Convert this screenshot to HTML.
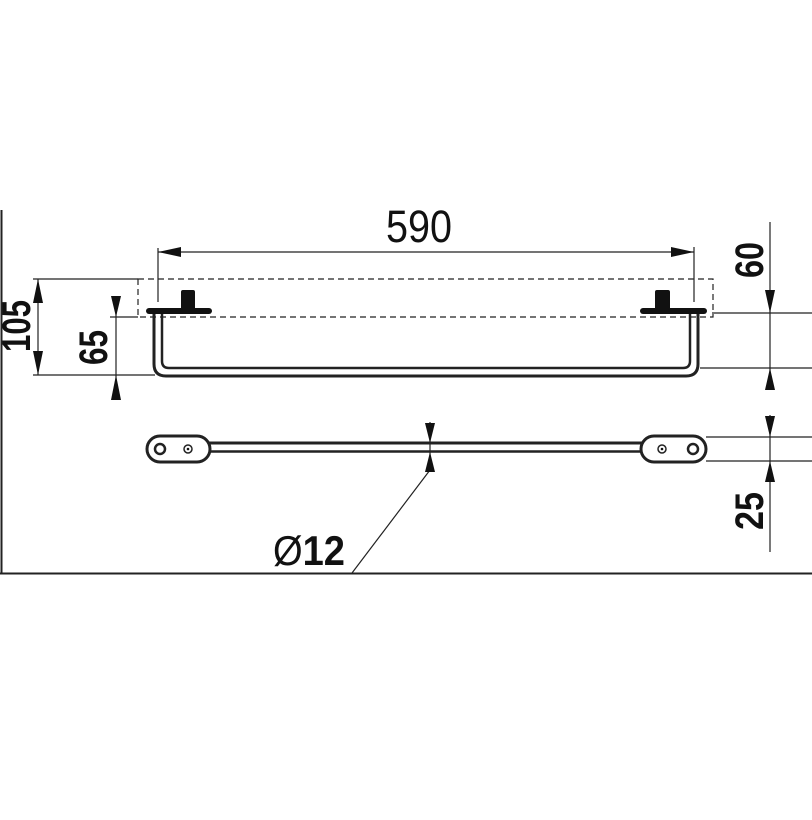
<!DOCTYPE html>
<html><head><style>html,body{margin:0;padding:0;background:#fff;}svg{display:block}
text{font-family:"Liberation Sans",sans-serif;fill:#111;}</style></head>
<body>
<svg width="812" height="820" viewBox="0 0 812 820" xmlns="http://www.w3.org/2000/svg">
<g stroke="#222" fill="none">
<line x1="1.5" y1="210" x2="1.5" y2="574" stroke-width="2"/>
<line x1="0" y1="573.5" x2="812" y2="573.5" stroke-width="2"/>
<line x1="158" y1="252" x2="694" y2="252" stroke-width="1.2"/>
<line x1="158" y1="248" x2="158" y2="302" stroke-width="1.2"/>
<line x1="694" y1="247" x2="694" y2="302" stroke-width="1.2"/>
<rect x="138" y="279" width="575" height="38" stroke-width="1.2" stroke-dasharray="6,4"/>
<line x1="33" y1="279" x2="138" y2="279" stroke-width="1.2"/>
<line x1="33" y1="375" x2="155" y2="375" stroke-width="1.2"/>
<line x1="38" y1="279" x2="38" y2="375" stroke-width="1.2"/>
<line x1="110" y1="317" x2="138" y2="317" stroke-width="1.2"/>
<line x1="116" y1="296" x2="116" y2="400" stroke-width="1.2"/>
<line x1="770" y1="222" x2="770" y2="388" stroke-width="1.2"/>
<line x1="712" y1="313" x2="812" y2="313" stroke-width="1.2"/>
<line x1="700" y1="368" x2="812" y2="368" stroke-width="1.2"/>
<line x1="770" y1="415" x2="770" y2="552" stroke-width="1.2"/>
<line x1="706" y1="437" x2="812" y2="437" stroke-width="1.2"/>
<line x1="706" y1="461" x2="812" y2="461" stroke-width="1.2"/>
<line x1="430" y1="422" x2="430" y2="470" stroke-width="1.2"/>
<line x1="430" y1="470" x2="352" y2="573" stroke-width="1.2"/>
<path d="M154 313 V364 Q154 376 166 376 H686 Q698 376 698 364 V313" stroke-width="3"/>
<path d="M162 313 V361 Q162 368 169 368 H683 Q690 368 690 361 V313" stroke-width="2.5"/>
<line x1="209" y1="443" x2="642" y2="443" stroke-width="3"/>
<line x1="209" y1="451.5" x2="642" y2="451.5" stroke-width="2.5"/>
<rect x="147" y="436" width="63" height="26" rx="13" stroke-width="3" fill="#fff"/>
<rect x="641" y="436" width="65" height="26" rx="13" stroke-width="3" fill="#fff"/>
<circle cx="160" cy="449" r="5" stroke-width="2.5"/>
<circle cx="188" cy="449" r="4" stroke-width="1.5"/>
<circle cx="662" cy="449" r="4" stroke-width="1.5"/>
<circle cx="693" cy="449" r="5" stroke-width="2.5"/>
</g>
<g fill="#111">
<circle cx="188" cy="449" r="1.3"/><circle cx="662" cy="449" r="1.3"/>
<rect x="146" y="308" width="66" height="6" rx="3"/>
<rect x="181" y="290" width="14" height="20" rx="2"/>
<rect x="640" y="308" width="67" height="6" rx="3"/>
<rect x="655" y="290" width="15" height="20" rx="2"/>
<polygon points="158,252 181,247 181,257"/>
<polygon points="694,252 671,247 671,257"/>
<polygon points="38,279 33,303 43,303"/>
<polygon points="38,375 33,351 43,351"/>
<polygon points="116,317 111,296 121,296"/>
<polygon points="116,375 111,400 121,400"/>
<polygon points="770,313 765,290 775,290"/>
<polygon points="770,368 765,390 775,390"/>
<polygon points="770,437 765,416 775,416"/>
<polygon points="770,461 765,482 775,482"/>
<polygon points="430,443 425,423 435,423"/>
<polygon points="430,452 425,472 435,472"/>
</g>
<text x="386" y="242" font-size="45" textLength="66" lengthAdjust="spacingAndGlyphs">590</text>
<g font-weight="bold" font-size="40">
<text transform="translate(30,352) rotate(-90)" textLength="52" lengthAdjust="spacingAndGlyphs">105</text>
<text transform="translate(107,365) rotate(-90)" textLength="35" lengthAdjust="spacingAndGlyphs">65</text>
<text transform="translate(763,278) rotate(-90)" textLength="36" lengthAdjust="spacingAndGlyphs">60</text>
<text transform="translate(763,530) rotate(-90)" textLength="38" lengthAdjust="spacingAndGlyphs">25</text>
<text x="273" y="565" font-size="42" textLength="72" lengthAdjust="spacingAndGlyphs"><tspan font-weight="normal">Ø</tspan>12</text>
</g>
</svg>
</body></html>
